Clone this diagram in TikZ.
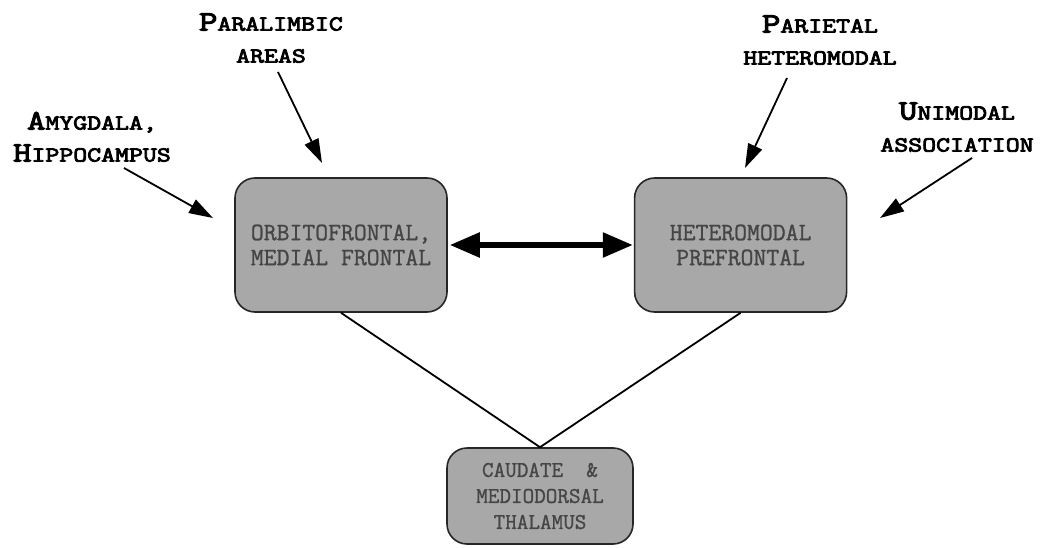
\documentclass[tikz,border=0pt]{standalone}
\usepackage{fontspec}
\usetikzlibrary{arrows.meta, positioning}

\newfontfamily\labfont[FakeStretch=1.27, FakeBold=4]{Latin Modern Mono}
\newfontfamily\boxfont[FakeBold=1]{Latin Modern Mono}
\definecolor{regionfill}{gray}{0.66}
\definecolor{regiontext}{gray}{0.27}
\newcommand{\capword}[2]{{\fontsize{28}{32}\selectfont #1}#2}

\begin{document}
\begin{tikzpicture}[x=1pt, y=-1pt,
	region/.style={draw=black!85, line width=1.6pt, fill=regionfill, rounded corners=20pt, minimum width=212pt, minimum height=134pt, align=center, text=regiontext, font=\boxfont\fontsize{25}{25}\selectfont},
	source/.style={align=center, inner sep=0pt, anchor=south, font=\labfont\fontsize{21.3}{32}\selectfont},
	feed/.style={line width=1.8pt, -{Triangle[length=24pt, width=15pt]}},
	link/.style={line width=5.5pt, {Triangle[length=30pt, width=24pt]}-{Triangle[length=30pt, width=24pt]}},
	tie/.style={line width=1.8pt}]
	
	\useasboundingbox (0,0) rectangle (1041,548);
	
	\node[region] (orb) at (341,245)					{ORBITOFRONTAL,\\MEDIAL FRONTAL};
	\node[region, right=186pt of orb] (hetero)		{HETEROMODAL\\PREFRONTAL};
	\node[region, minimum width=186pt, minimum height=96pt, font=\boxfont\fontsize{22.5}{26}\selectfont] (caud) at (540,496)	{CAUDATE~~\&\\MEDIODORSAL\\THALAMUS};
	
	\node[source] (amyg) at (92,162) 	{\capword{A}{MYGDALA,}\\\capword{H}{IPPOCAMPUS}};
	\node[source] (para) at (271,63) 	{\capword{P}{ARALIMBIC}\\AREAS};
	\node[source] (pari) at (820,65) 	{\capword{P}{ARIETAL}\\HETEROMODAL};
	\node[source] (uni) at (957,152) 	{\capword{U}{NIMODAL}\\ASSOCIATION};
	
	\coordinate (amygTip) at (213,218);
	\coordinate (paraTip) at (322,163);
	\coordinate (pariTip) at (745,168);
	\coordinate (uniTip) at (880,218);
	
	\draw[feed] ([shift={(32,6)}]amyg.south) -- (amygTip);
	\draw[feed] ([shift={(7,9)}]para.south) -- (paraTip);
	\draw[feed] ([shift={(-33,13)}]pari.south) -- (pariTip);
	\draw[feed] ([shift={(15,6)}]uni.south) -- (uniTip);
	
	\draw[link] ([xshift=2pt]orb.east) -- ([xshift=-1pt]hetero.west);
	\draw[tie] (orb.south) -- (caud.north);
	\draw[tie] (hetero.south) -- (caud.north);
\end{tikzpicture}
\end{document}
